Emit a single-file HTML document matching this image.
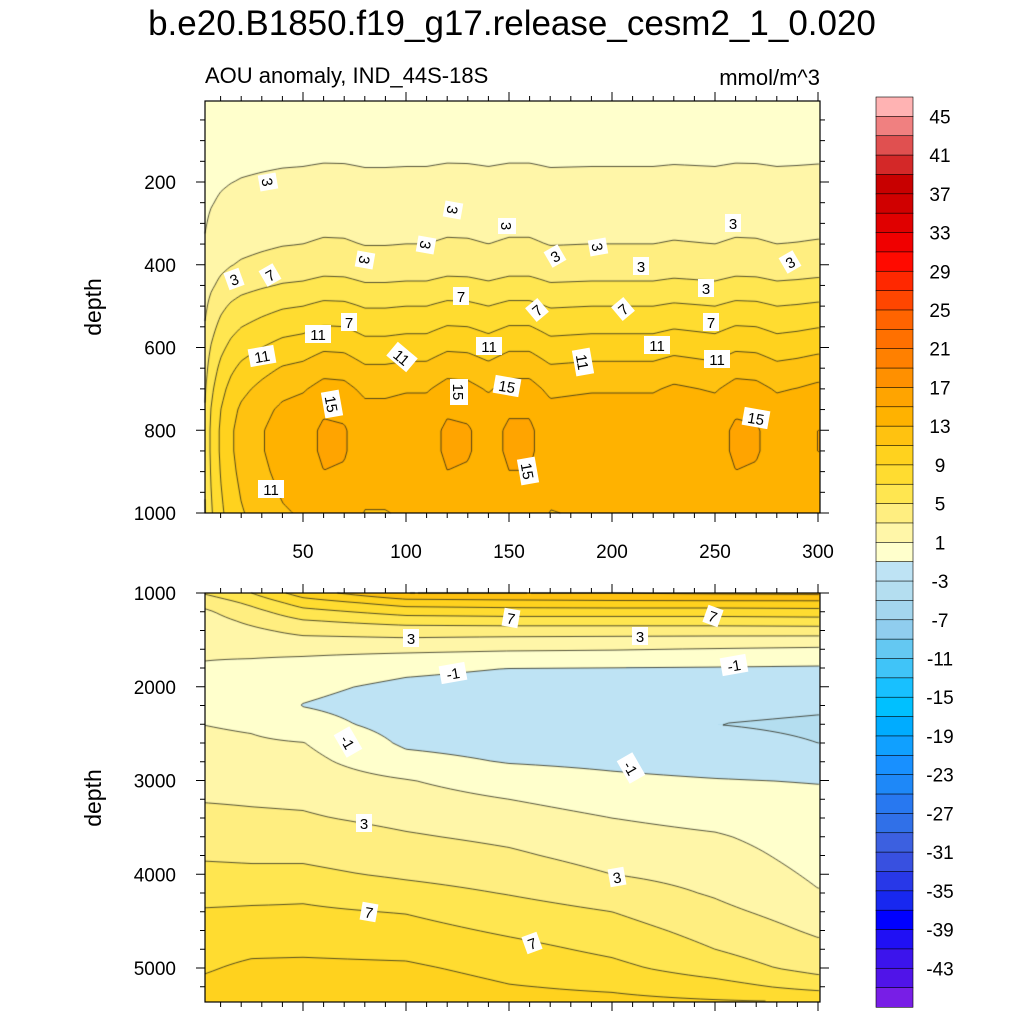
<!DOCTYPE html>
<html><head><meta charset="utf-8"><style>
html,body{margin:0;padding:0;background:#fff;}
#wrap{position:relative;width:1024px;height:1024px;overflow:hidden;font-family:"Liberation Sans",sans-serif;}
canvas,svg{position:absolute;left:0;top:0;}
</style></head><body>
<div id="wrap">
<canvas id="cv" width="1024" height="1024"></canvas>
<svg id="sv" width="1024" height="1024" xmlns="http://www.w3.org/2000/svg">
<text x="512" y="35" text-anchor="middle" font-size="35" font-family="Liberation Sans, sans-serif">b.e20.B1850.f19_g17.release_cesm2_1_0.020</text>
<text x="205" y="83" font-size="22" font-family="Liberation Sans, sans-serif">AOU anomaly, IND_44S-18S</text>
<text x="820" y="85" text-anchor="end" font-size="22" font-family="Liberation Sans, sans-serif">mmol/m^3</text>
<text transform="translate(101,307) rotate(-90)" text-anchor="middle" font-size="23" font-family="Liberation Sans, sans-serif">depth</text>
<text transform="translate(101,798) rotate(-90)" text-anchor="middle" font-size="23" font-family="Liberation Sans, sans-serif">depth</text>
<g id="axes"></g>
<g id="labels"></g>
<g id="cbar"></g>
</svg>
</div>
<script>
// ---------- colour levels ----------
const levels = []; for (let L = -45; L <= 45; L += 2) levels.push(L);
const colors = ['#781ee6','#5014e8','#3c14ec','#2010f4','#0000ff','#1828f0','#2838e8','#3850e0','#3c60e0','#3070e8','#2878f0','#1e88f8','#1890ff','#10a0ff','#00acff','#00c0ff','#18c0ff','#40c4f8','#64c8f2','#90cdee','#a4d6ee','#b4def0','#bee3f4',
'#ffffcc','#fff6a8','#ffee80','#ffe650','#ffdc30','#ffd21e','#ffc210','#ffb200','#ffa400','#ff9000','#ff8000','#ff7000','#ff6400','#ff4600','#ff2800','#ff0a00','#f00000','#e00000','#d00000','#c80000','#d42828','#e05050','#f08080','#ffb3b3'];
const cbLabels = [45,41,37,33,29,25,21,17,13,9,5,1,-3,-7,-11,-15,-19,-23,-27,-31,-35,-39,-43];

// ---------- top panel data (depth 0-1000 m) ----------
const depthTop = [5,50,100,150,200,250,300,350,400,450,500,550,600,650,700,750,800,850,900,950,1000];
const profileTop = [0.2,0.4,0.6,0.9,1.3,1.8,2.4,3.0,3.9,5.3,7,8.5,10,11.5,12.8,13.8,14.3,14.3,14,13.6,13.2];
const yearsTop = [2,5,10,15,20,30,40,50,60,70,80,90,100,110,120,130,140,150,160,170,180,190,200,210,220,230,240,250,260,270,280,290,300];
const factorTop = [0.35,0.5,0.65,0.75,0.82,0.9,0.97,1.0,1.07,1.06,0.98,0.98,1.0,1.0,1.07,1.06,1.0,1.07,1.07,0.98,0.99,1.0,1.0,1.0,1.0,1.04,1.02,1.0,1.07,1.06,1.0,1.02,1.05];

// ---------- bottom panel data (depth 1000-5360 m) ----------
const yearsBot = [0,25,50,100,150,200,250,300];
const depthBot = [1000,1100,1200,1300,1400,1500,1600,1800,2000,2200,2400,2600,2800,3000,3200,3400,3600,3800,4000,4200,4400,4600,4800,5000,5200,5360];
const botT0   = [5,3.5,2.5,2,1.7,1.4,1.2,0.9,0.6,0.7,1,1.5,2,2.4,2.9,3.5,4.2,4.8,5.5,6.2,7.2,8,8.4,8.8,9.3,9.6];
const botT25  = [7,5.5,4.3,3.4,2.6,2,1.4,0.6,0.1,0,0.7,1.3,1.8,2.2,2.8,3.3,4,4.7,5.4,6.4,7.3,8.1,8.7,9.3,9.7,10];
const botT50  = [10,8,6.3,4.8,3.6,2.5,1.5,0.2,-0.6,-1.05,-0.3,1.05,1.6,2.1,2.7,3.2,4,4.7,5.4,6.6,7.3,8,8.7,9.4,9.8,10];
const botT100 = [13,10,7.8,5.8,4,2.7,1.4,-0.6,-1.4,-1.8,-1.7,-1.3,-0.4,1.1,1.8,2.5,3.2,4,4.7,5.7,6.9,7.7,8.5,9.3,10,10.5];
const botT150 = [13,10.3,8,6,4,2.5,1.2,-1,-1.7,-2,-2,-1.7,-1.1,0,1,1.9,2.6,3.3,4.1,4.9,5.8,6.7,7.6,8.4,9.1,9.6];
const botT200 = [13,10.5,8,6,4,2.4,1.1,-1.05,-1.8,-2.2,-2.3,-2,-1.4,-0.6,0.1,1,1.7,2.3,3,4,5,5.8,6.6,7.5,8.7,9.5];
const botT250 = [13.3,10.5,8,6,4,2.3,0.9,-1.1,-2,-2.6,-3,-2.6,-1.8,-0.9,-0.3,0.4,1.2,1.8,2.3,2.8,3.5,4.3,5,6,7.8,9.2];
const botT300 = [13.5,10.5,8.2,6.1,4.1,2.2,0.7,-1.2,-2.2,-2.8,-3.2,-3,-2.2,-1.1,-0.6,-0.3,0,0.3,0.7,1.1,2,2.7,3.5,4.3,6.3,9];
const botCols = [botT0,botT25,botT50,botT100,botT150,botT200,botT250,botT300];

// ---------- axes functions ----------
const PX0 = 205, PX1 = 820;
const TOP = {y0:101, y1:513}, BOT = {y0:593, y1:1002};
function xOf(t){ return 303 + (t-50)*2.06; }
function tOf(x){ return 50 + (x-303)/2.06; }
function yTop(d){ return 182 + (d-200)*0.41375; }
function dTop(y){ return 200 + (y-182)/0.41375; }
function yBot(d){ return 593 + (d-1000)*0.09375; }
function dBot(y){ return 1000 + (y-593)/0.09375; }

function locate(xs, x){
  if (x <= xs[0]) return [0,0];
  if (x >= xs[xs.length-1]) return [xs.length-2,1];
  let i = 0; while (xs[i+1] < x) i++;
  return [i,(x-xs[i])/(xs[i+1]-xs[i])];
}
function interp(xs, ys, x){ const [i,f] = locate(xs,x); return ys[i]*(1-f)+ys[i+1]*f; }
function valTop(t,d){ return interp(depthTop,profileTop,d)*interp(yearsTop,factorTop,t); }
function valBot(t,d){
  const [i,f] = locate(yearsBot,t); const [j,g] = locate(depthBot,d);
  const a = botCols[i], b = botCols[i+1];
  const v0 = a[j]*(1-g)+a[j+1]*g, v1 = b[j]*(1-g)+b[j+1]*g;
  return v0*(1-f)+v1*f;
}
function colorIdx(v){ if (v < -45) return 0; const k = Math.floor((v+45)/2)+1; return Math.min(k,46); }
function hex(c){ return [parseInt(c.substr(1,2),16),parseInt(c.substr(3,2),16),parseInt(c.substr(5,2),16)]; }
const rgb = colors.map(hex);

// ---------- draw fields ----------
const cv = document.getElementById('cv'); const ctx = cv.getContext('2d');
const img = ctx.createImageData(1024,1024);
function fillPanel(P, fn, dfn){
  for (let y = P.y0; y < P.y1; y++){
    const d = dfn(y+0.5);
    for (let x = PX0; x < PX1; x++){
      const v = fn(tOf(x+0.5), d); const c = rgb[colorIdx(v)];
      const o = (y*1024+x)*4; img.data[o]=c[0]; img.data[o+1]=c[1]; img.data[o+2]=c[2]; img.data[o+3]=255;
    }
  }
}
fillPanel(TOP, valTop, dTop);
fillPanel(BOT, valBot, dBot);
ctx.putImageData(img,0,0);

function contourPanel(P, fn, dfn){
  const s = 2; const nx = Math.floor((PX1-PX0)/s)+1, ny = Math.floor((P.y1-P.y0)/s)+1;
  const g = [];
  for (let j=0;j<ny;j++){ const row=[]; const d=dfn(P.y0+j*s); for (let i=0;i<nx;i++) row.push(fn(tOf(PX0+i*s),d)); g.push(row); }
  ctx.strokeStyle = '#2a2a1a'; ctx.lineWidth = 0.8;
  levels.forEach(L => {
    ctx.beginPath();
    for (let j=0;j<ny-1;j++) for (let i=0;i<nx-1;i++){
      const a=g[j][i], b=g[j][i+1], c=g[j+1][i+1], d=g[j+1][i];
      const pts=[];
      const x=PX0+i*s, y=P.y0+j*s;
      if ((a<L)!==(b<L)) pts.push([x+s*(L-a)/(b-a), y]);
      if ((b<L)!==(c<L)) pts.push([x+s, y+s*(L-b)/(c-b)]);
      if ((d<L)!==(c<L)) pts.push([x+s*(L-d)/(c-d), y+s]);
      if ((a<L)!==(d<L)) pts.push([x, y+s*(L-a)/(d-a)]);
      if (pts.length>=2){ ctx.moveTo(pts[0][0],pts[0][1]); ctx.lineTo(pts[1][0],pts[1][1]); }
      if (pts.length===4){ ctx.moveTo(pts[2][0],pts[2][1]); ctx.lineTo(pts[3][0],pts[3][1]); }
    }
    ctx.stroke();
  });
}
contourPanel(TOP, valTop, dTop);
contourPanel(BOT, valBot, dBot);

// ---------- SVG axes ----------
const NS = 'http://www.w3.org/2000/svg';
const axes = document.getElementById('axes');
function mk(tag, attrs, parent){ const e=document.createElementNS(NS,tag); for (const k in attrs) e.setAttribute(k,attrs[k]); parent.appendChild(e); return e; }
function tick(x1,y1,x2,y2,name){
  const l = mk('line',{x1:x1,y1:y1,x2:x2,y2:y2,stroke:'#000','stroke-width':1},axes);
  
  
}
function frame(P,name){
  const r = mk('rect',{x:PX0,y:P.y0,width:PX1-PX0,height:P.y1-P.y0,fill:'none',stroke:'#000','stroke-width':1.2},axes);
  
  
}
frame(TOP,'top-panel-frame'); frame(BOT,'bottom-panel-frame');
for (let t=10;t<=300;t+=10){
  const x=xOf(t); if (x<PX0||x>PX1) continue; const major = t%50===0; const len = major?9:5;
  [TOP,BOT].forEach(P=>{ tick(x,P.y1,x,P.y1+len,'x-tick'); tick(x,P.y0,x,P.y0-len,'x-tick'); });
}
const xTickLabels = [50,100,150,200,250,300];
xTickLabels.forEach(t=>{
  const e = mk('text',{x:xOf(t),y:558,'text-anchor':'middle','font-size':19},axes); e.textContent=String(t);
  
  
});
for (let d=50; d<=1000; d+=50){
  const y=yTop(d); if (y<TOP.y0) continue; const len = d%200===0?9:5;
  tick(PX0,y,PX0-len,y,'top-y-tick'); tick(PX1,y,PX1+len,y,'top-y-tick');
}
const yTopLabels = [200,400,600,800,1000];
yTopLabels.forEach(d=>{
  const e = mk('text',{x:176,y:yTop(d)+7,'text-anchor':'end','font-size':19},axes); e.textContent=String(d);
  
  
});
for (let d=1000; d<=5300; d+=200){
  const y=yBot(d); const len = d%1000===0?9:5;
  tick(PX0,y,PX0-len,y,'bottom-y-tick'); tick(PX1,y,PX1+len,y,'bottom-y-tick');
}
const yBotLabels = [1000,2000,3000,4000,5000];
yBotLabels.forEach(d=>{
  const e = mk('text',{x:176,y:yBot(d)+7,'text-anchor':'end','font-size':19},axes); e.textContent=String(d);
  
  
});

// ---------- contour labels ----------
const labelsG = document.getElementById('labels');
const cLabels = [
 [268,182,'3',80],[453,210,'3',100],[507,226,'3',90],[426,245,'3',100],[234,279,'3',-20],[365,260,'3',100],[555,256,'3',-30],[598,247,'3',80],[641,266,'3',0],[733,223,'3',0],[706,288,'3',0],[790,262,'3',-30],
 [270,275,'7',-30],[461,296,'7',0],[537,310,'7',-40],[623,309,'7',-40],[349,322,'7',0],[711,322,'7',0],
 [262,356,'11',-10],[318,334,'11',0],[402,357,'11',40],[489,346,'11',0],[583,362,'11',80],[657,345,'11',0],[717,359,'11',0],[271,489,'11',0],
 [332,404,'15',80],[459,392,'15',90],[507,386,'15',10],[756,418,'15',10],[528,471,'15',80],
 [511,618,'7',10],[713,616,'7',20],[411,638,'3',0],[640,636,'3',0],[453,673,'-1',-10],[734,665,'-1',-10],[348,742,'-1',60],[631,768,'-1',60],
 [364,823,'3',0],[617,877,'3',-10],[369,912,'7',10],[532,943,'7',-20]
];
cLabels.forEach(([x,y,s,r])=>{
  const g = mk('g',{transform:`translate(${x},${y}) rotate(${r})`},labelsG);
  
  
  const w = s.length*10+6;
  mk('rect',{x:-w/2,y:-9,width:w,height:18,fill:'#fff'},g);
  const t = mk('text',{x:0,y:6,'text-anchor':'middle','font-size':15},g); t.textContent=s;
});

// ---------- colour bar ----------
const cb = document.getElementById('cbar');
const CBX=876, CBW=37, CBY0=97, CBY1=1007; const bh=(CBY1-CBY0)/colors.length;
for (let k=0;k<colors.length;k++){
  const ci = colors.length-1-k;
  const r = mk('rect',{x:CBX,y:CBY0+k*bh,width:CBW,height:bh+0.3,fill:colors[ci],stroke:'#000','stroke-width':0.6},cb);
  
  
}
cbLabels.forEach(L=>{
  const y = CBY0 + bh*(1+(45-L)/2);
  const t = mk('text',{x:940,y:y+7,'text-anchor':'middle','font-size':19},cb); t.textContent=String(L);
  
  
});
</script>
</body></html>
